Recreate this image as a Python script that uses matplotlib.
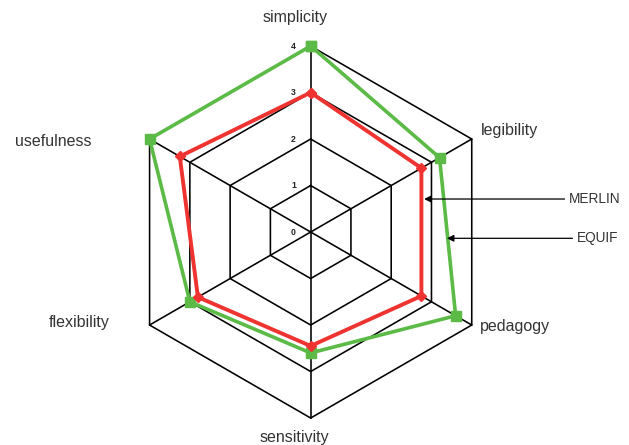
import numpy as np
import matplotlib
matplotlib.use('Agg')
import matplotlib.pyplot as plt

plt.rcParams['font.family'] = ['Liberation Sans', 'DejaVu Sans']

# axes clockwise from the top
categories = ['simplicity', 'legibility', 'pedagogy', 'sensitivity', 'flexibility', 'usefulness']
merlin = [3.0, 2.75, 2.75, 2.45, 2.8, 3.25]
equif = [4.0, 3.2, 3.6, 2.6, 3.0, 4.0]
levels = [0, 1, 2, 3, 4]

angles = np.deg2rad([90, 30, -30, -90, -150, 150])


def to_xy(values):
    v = np.asarray(values, dtype=float)
    x = v * np.cos(angles)
    y = v * np.sin(angles)
    return np.append(x, x[0]), np.append(y, y[0])


fig = plt.figure(figsize=(6.29, 4.45), dpi=100)
ax = fig.add_axes([0, 0, 1, 1])
ax.set_xlim(-6.68, 6.845)
ax.set_ylim(-4.58, 4.99)
ax.set_aspect('equal')
ax.axis('off')

# ---- grid ----
for lv in levels[1:]:
    gx, gy = to_xy([lv] * 6)
    ax.plot(gx, gy, color='black', lw=1.15, zorder=1)
for a in angles:
    ax.plot([0, levels[-1] * np.cos(a)], [0, levels[-1] * np.sin(a)],
            color='black', lw=1.15, zorder=1)

for lv in levels:
    ax.text(-0.37, lv, str(lv), fontsize=6.2, fontweight='bold',
            ha='center', va='center', color='#222222')

# ---- series ----
ex, ey = to_xy(equif)
ax.plot(ex, ey, color='#5bbb46', lw=2.6, marker='s', ms=7.2, zorder=3)
mx, my = to_xy(merlin)
ax.plot(mx, my, color='#ee3330', lw=2.8, marker='D', ms=5.5, zorder=4)

# ---- axis labels ----
label_pos = [(-0.33, 4.61), (4.28, 2.19), (4.4, -2.03), (-0.35, -4.42),
             (-4.98, -1.94), (-5.54, 1.94)]
for name, (lx, ly) in zip(categories, label_pos):
    ax.text(lx, ly, name, fontsize=11.5, color='#333333', ha='center', va='center')

# ---- series callouts ----
ax.annotate('MERLIN', xy=(2.44, 0.71), xytext=(5.55, 0.71),
            fontsize=9.8, color='#333333', ha='left', va='center',
            arrowprops=dict(arrowstyle='-|>', color='black', lw=0.9,
                            mutation_scale=10, shrinkA=1, shrinkB=0))
ax.annotate('EQUIF', xy=(2.93, -0.135), xytext=(5.72, -0.135),
            fontsize=9.8, color='#333333', ha='left', va='center',
            arrowprops=dict(arrowstyle='-|>', color='black', lw=0.9,
                            mutation_scale=10, shrinkA=1, shrinkB=0))

fig.savefig('out.png', dpi=100)
